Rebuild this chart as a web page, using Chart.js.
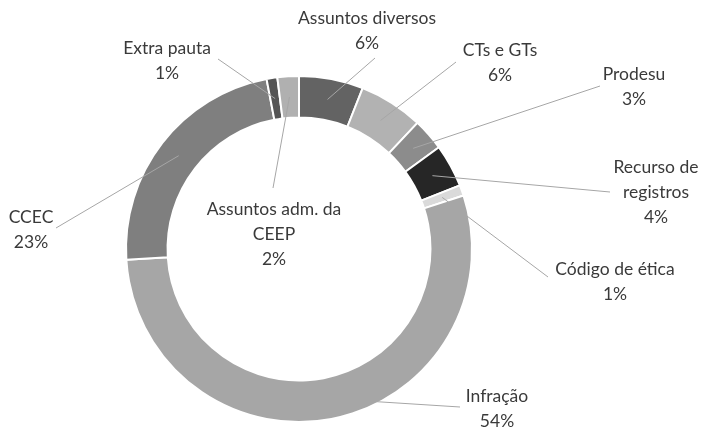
<!DOCTYPE html>
<html>
<head>
<meta charset="utf-8">
<script src="https://cdn.jsdelivr.net/npm/chart.js@4"></script>
<style>
html,body{margin:0;padding:0;background:#fff;}
#wrap{width:707px;height:428px;position:relative;}
</style>
</head>
<body>
<div id="wrap"><canvas id="c" width="707" height="428"></canvas></div>
<script>
const categories = ["Assuntos diversos", "CTs e GTs", "Prodesu", "Recurso de registros", "Código de ética", "Infração", "CCEC", "Extra pauta", "Assuntos adm. da CEEP"];
const values = [6, 6, 3, 4, 1, 54, 23, 1, 2];
const labelLines = [["Assuntos diversos"], ["CTs e GTs"], ["Prodesu"], ["Recurso de", "registros"], ["Código de ética"], ["Infração"], ["CCEC"], ["Extra pauta"], ["Assuntos adm. da", "CEEP"]];
const colors = ["#636363", "#b2b2b2", "#8c8c8c", "#262626", "#dadada", "#a6a6a6", "#7f7f7f", "#555555", "#b0b0b0"];

// label layout: text centre x, first-line centre y, leader-line end point
const labelLayout = [
  {x: 367, y: 18, lx: 375, ly: 58},
  {x: 500, y: 50, lx: 456, ly: 62},
  {x: 634, y: 74, lx: 600, ly: 86},
  {x: 656, y: 167, lx: 610, ly: 192},
  {x: 615, y: 269, lx: 548, ly: 277},
  {x: 497, y: 396, lx: 460, ly: 407},
  {x: 31, y: 217, lx: 56, ly: 228},
  {x: 167, y: 48, lx: 218, ly: 59},
  {x: 274, y: 209, lx: 273, ly: 188}
];

const labelPlugin = {
  id: 'outLabels',
  afterDatasetsDraw(chart) {
    const ctx = chart.ctx;
    const meta = chart.getDatasetMeta(0);
    const total = values.reduce((a, b) => a + b, 0);
    ctx.save();
    meta.data.forEach((arc, i) => {
      const p = arc.getCenterPoint();
      const L = labelLayout[i];
      ctx.strokeStyle = '#a6a6a6';
      ctx.lineWidth = 1;
      ctx.beginPath();
      ctx.moveTo(p.x, p.y);
      ctx.lineTo(L.lx, L.ly);
      ctx.stroke();
    });
    ctx.fillStyle = '#3a3a3a';
    ctx.font = '17.5px Lato, "Open Sans", sans-serif';
    ctx.textAlign = 'center';
    ctx.textBaseline = 'middle';
    meta.data.forEach((arc, i) => {
      const L = labelLayout[i];
      const lines = labelLines[i].concat([Math.round(values[i] / total * 100) + '%']);
      lines.forEach((t, k) => ctx.fillText(t, L.x, L.y + k * 25));
    });
    ctx.restore();
  }
};

new Chart(document.getElementById('c'), {
  type: 'doughnut',
  data: {
    labels: categories,
    datasets: [{
      data: values,
      backgroundColor: colors,
      borderColor: '#ffffff',
      borderWidth: 2
    }]
  },
  options: {
    responsive: false,
    animation: false,
    cutout: '76%',
    layout: {padding: {top: 75, bottom: 5, left: 125, right: 234}},
    plugins: {legend: {display: false}, tooltip: {enabled: false}}
  },
  plugins: [labelPlugin]
});
</script>
</body>
</html>
